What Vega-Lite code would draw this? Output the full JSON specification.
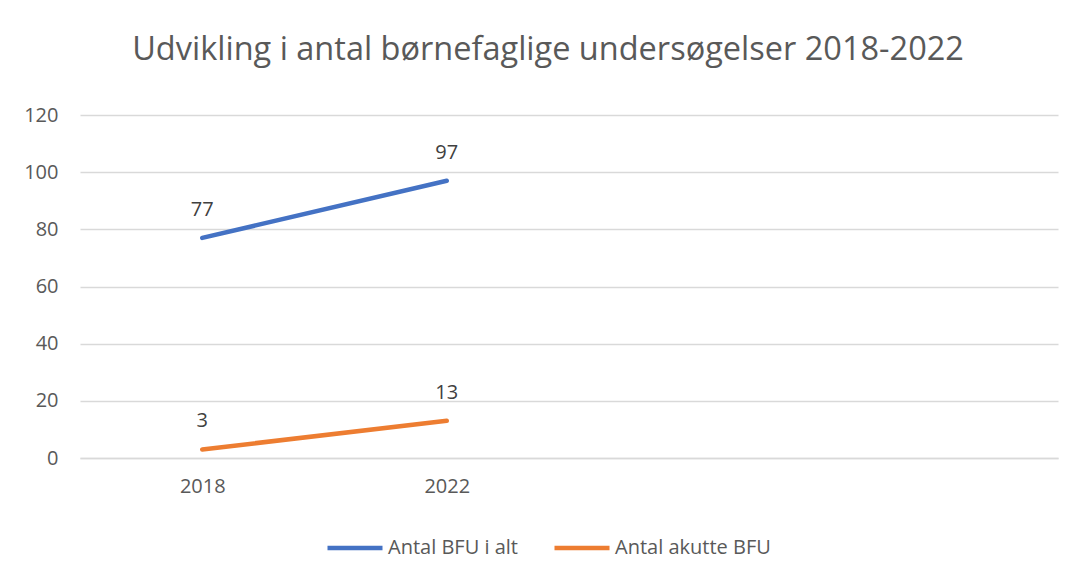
{
  "$schema": "https://vega.github.io/schema/vega-lite/v6.json",
  "width": 978,
  "height": 343,
  "autosize": {"type": "none"},
  "padding": {"left": 80, "top": 115, "right": 21, "bottom": 115},
  "background": "white",
  "title": {
    "text": "Udvikling i antal børnefaglige undersøgelser 2018-2022",
    "font": "Open Sans",
    "fontSize": 32.5,
    "fontWeight": "normal",
    "color": "#595959",
    "anchor": "middle",
    "dx": -21,
    "offset": 39
  },
  "config": {
    "view": {"stroke": null},
    "font": "Open Sans"
  },
  "data": {
    "values": [
      {"year": "2018", "series": "Antal BFU i alt", "value": 77},
      {"year": "2022", "series": "Antal BFU i alt", "value": 97},
      {"year": "2018", "series": "Antal akutte BFU", "value": 3},
      {"year": "2022", "series": "Antal akutte BFU", "value": 13}
    ]
  },
  "encoding": {
    "x": {
      "field": "year",
      "type": "ordinal",
      "scale": {"domain": ["2018", "2022", "c3", "c4"], "padding": 0.5},
      "axis": {
        "title": null,
        "labelAngle": 0,
        "labelExpr": "(datum.value == 'c3' || datum.value == 'c4') ? '' : datum.value",
        "ticks": false,
        "domainColor": "#D9D9D9",
        "domainWidth": 1.5,
        "labelFont": "Open Sans",
        "labelFontSize": 20,
        "labelColor": "#595959",
        "labelPadding": 18
      }
    },
    "y": {
      "field": "value",
      "type": "quantitative",
      "scale": {"domain": [0, 120]},
      "axis": {
        "title": null,
        "values": [0, 20, 40, 60, 80, 100, 120],
        "domain": false,
        "ticks": false,
        "gridColor": "#D9D9D9",
        "gridWidth": 1.5,
        "labelFont": "Open Sans",
        "labelFontSize": 20,
        "labelColor": "#595959",
        "labelPadding": 22
      }
    },
    "color": {
      "field": "series",
      "type": "nominal",
      "scale": {"domain": ["Antal BFU i alt", "Antal akutte BFU"], "range": ["#4472C4", "#ED7D31"]},
      "legend": {
        "title": null,
        "orient": "none",
        "direction": "horizontal",
        "legendX": 245,
        "legendY": 403,
        "symbolType": "stroke",
        "symbolSize": 3025,
        "symbolStrokeWidth": 4.5,
        "labelFont": "Open Sans",
        "labelFontSize": 20,
        "labelColor": "#595959",
        "labelOffset": 3,
        "columnPadding": 27
      }
    }
  },
  "layer": [
    {
      "mark": {"type": "line", "strokeWidth": 4.5, "strokeCap": "round"}
    },
    {
      "mark": {"type": "text", "dy": -28, "fontSize": 20, "color": "#404040", "font": "Open Sans"},
      "encoding": {
        "text": {"field": "value", "type": "quantitative"},
        "color": {"value": "#404040"}
      }
    }
  ]
}
